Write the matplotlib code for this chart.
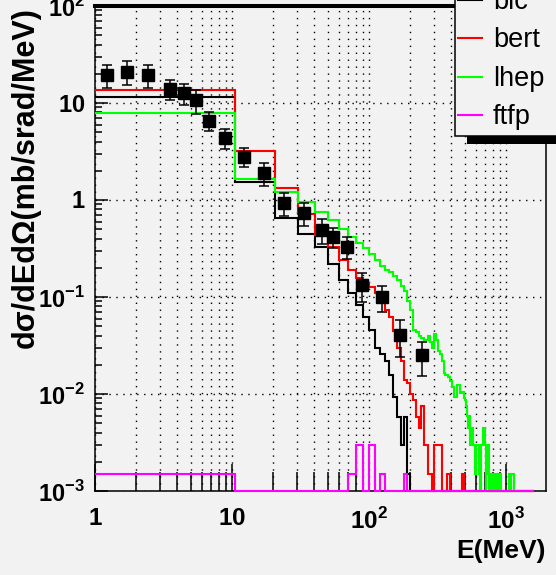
import numpy as np
import matplotlib.pyplot as plt
from matplotlib.lines import Line2D
from matplotlib.patches import Rectangle
from matplotlib.ticker import FixedLocator, FixedFormatter, LogLocator, NullFormatter

plt.rcParams['font.family'] = ['Liberation Sans', 'DejaVu Sans']
plt.rcParams['mathtext.fontset'] = 'custom'
plt.rcParams['mathtext.rm'] = 'Liberation Sans:bold'
plt.rcParams['mathtext.bf'] = 'Liberation Sans:bold'

# measured points
e_data = [1.22, 1.71, 2.44, 3.53, 4.46, 5.46, 6.79, 8.89, 12.2, 17.1,
          24.0, 33.6, 45.4, 54.6, 69.0, 88.9, 124, 168, 244]
xs_data = [19.4, 21.0, 19.4, 13.9, 12.6, 10.7, 6.6, 4.35, 2.8, 1.9,
           0.93, 0.74, 0.49, 0.42, 0.33, 0.133, 0.10, 0.041, 0.025]
xs_err = [5.0, 5.8, 5.0, 3.2, 3.0, 3.0, 1.4, 1.0, 0.6, 0.5,
          0.25, 0.2, 0.14, 0.1, 0.085, 0.044, 0.03, 0.017, 0.0095]

# model histograms, 10 MeV bins starting at 0.5 MeV (empty bins left out at the end)
bin_start = 0.5
bin_width = 10.0
n_bins = 160

bic = [11.6, 1.55, 0.65, 0.45, 0.33, 0.22, 0.15, 0.11, 0.083, 0.062,
       0.046, 0.030, 0.026, 0.022, 0.0157, 0.0093, 0.0058, 0.003, 0.0058, 0.0015]

bert = [13.6, 3.2, 1.32, 0.72, 0.44, 0.33, 0.24, 0.19, 0.157, 0.14,
        0.127, 0.11, 0.093, 0.074, 0.062, 0.045, 0.030, 0.022, 0.014, 0.013,
        0.010, 0.0087, 0.0058, 0.0045, 0.0075, 0.003, 0.003, 0.0015, 0.0015, 0,
        0.003, 0.003, 0.003, 0.003, 0, 0, 0, 0.0015, 0.0015, 0,
        0, 0, 0, 0, 0, 0, 0, 0, 0.0015]

lhep = [7.9, 1.65, 1.22, 0.95, 0.75, 0.62, 0.5, 0.42, 0.36, 0.32,
        0.28, 0.24, 0.21, 0.19, 0.18, 0.165, 0.15, 0.13, 0.115, 0.09,
        0.073, 0.046, 0.044, 0.040, 0.038, 0.036, 0.036, 0.040, 0.034, 0.030,
        0.042, 0.036, 0.028, 0.026, 0.022, 0.0165, 0.0157, 0.0157, 0.0150, 0.0135,
        0.0118, 0.0118, 0.0093, 0.0093, 0.0124, 0.0124, 0.0102, 0.0102, 0.0105, 0.009,
        0.0087, 0.0075, 0.006, 0.0045, 0.006, 0.003, 0.0045, 0.003, 0.003, 0.0015,
        0.003, 0.003, 0.003, 0.003, 0.0015, 0, 0.003, 0.003, 0.0045, 0.0045,
        0.003, 0, 0.0015, 0.003, 0.003, 0, 0.0015, 0.0015, 0, 0.0015,
        0.0015, 0, 0.0015, 0.0015, 0.0015, 0, 0.0015, 0.0015, 0.0015, 0,
        0.0015, 0.0015, 0, 0, 0, 0, 0, 0, 0, 0,
        0, 0, 0, 0, 0, 0.0015, 0.0015, 0.0015, 0, 0.0015,
        0.0015, 0.0015, 0.0015, 0.0015]

ftfp = [0.0015, 0, 0, 0, 0, 0, 0, 0.0015, 0.003, 0,
        0.003, 0, 0.0015, 0, 0, 0, 0, 0, 0.0015]

models = [("bic", bic, "black"), ("bert", bert, "#ff0000"),
          ("lhep", lhep, "#00ff00"), ("ftfp", ftfp, "#ff00ff")]

bg = "#f2f2f2"
xmin, xmax = 1, 1960
ymin, ymax = 1e-3, 100

W, H = 556, 575
fig = plt.figure(figsize=(W / 100, H / 100), dpi=100, facecolor=bg)
ax = fig.add_axes([95 / W, 1 - 491 / H, 451 / W, 485 / H], facecolor=bg)
ax.set_xscale('log')
ax.set_yscale('log')
ax.set_xlim(xmin, xmax)
ax.set_ylim(ymin, ymax)
ax.set_axisbelow(True)

edges = bin_start + bin_width * np.arange(n_bins + 1)
edges = np.maximum(edges, xmin)
for name, vals, col in models:
    v = np.zeros(n_bins)
    v[:len(vals)] = vals
    v = np.where(v > 0, v, ymin)  # empty bins sit on the bottom axis, like ROOT
    ax.stairs(v, edges, baseline=None, color=col, lw=1.5, clip_on=False, zorder=3)

ax.errorbar(e_data, xs_data, yerr=xs_err, fmt='s', color='black', ms=8,
            capsize=3.5, elinewidth=1.1, capthick=1.1, zorder=6)

# axes, ticks, grid
ax.xaxis.set_major_locator(FixedLocator([1, 10, 100, 1000]))
ax.xaxis.set_major_formatter(FixedFormatter([r'$1$', r'$10$', r'$10^{2}$', r'$10^{3}$']))
ax.xaxis.set_minor_locator(LogLocator(base=10, subs=range(2, 10)))
ax.xaxis.set_minor_formatter(NullFormatter())
ax.yaxis.set_major_locator(FixedLocator([1e-3, 1e-2, 1e-1, 1, 10, 100]))
ax.yaxis.set_major_formatter(FixedFormatter([r'$10^{-3}$', r'$10^{-2}$', r'$10^{-1}$',
                                             r'$1$', r'$10$', r'$10^{2}$']))
ax.yaxis.set_minor_locator(LogLocator(base=10, subs=range(2, 10)))
ax.yaxis.set_minor_formatter(NullFormatter())

ax.tick_params(axis='x', which='major', direction='in', length=19.4, width=1.1,
               labelsize=17.5, pad=12, top=False)
ax.tick_params(axis='x', which='minor', direction='in', length=13.7, width=1.1, top=False)
ax.tick_params(axis='y', which='major', direction='in', length=9.4, width=1.1,
               labelsize=17, pad=7, right=False)
ax.tick_params(axis='y', which='minor', direction='in', length=5.0, width=1.1, right=False)

ax.grid(True, axis='x', which='both', color='black', lw=1.0, linestyle=(0, (1, 4)))
ax.grid(True, axis='y', which='major', color='black', lw=1.0, linestyle=(0, (1, 4)))

for s in ['left', 'right', 'bottom']:
    ax.spines[s].set_linewidth(1.1)
ax.spines['top'].set_linewidth(2.9)

ax.set_xlabel('E(MeV)', fontsize=19, fontweight='bold', ha='right', va='center')
ax.xaxis.set_label_coords(1.0, -0.124)
ax.set_ylabel('dσ/dEdΩ(mb/srad/MeV)', fontsize=22, fontweight='bold', ha='right', va='center')
ax.yaxis.set_label_coords(-0.153, 0.998)


# legend box, partly outside the picture as in the original
def fx(px):
    return px / W


def fy(py):
    return 1 - py / H


fig.add_artist(Rectangle((fx(467), fy(144)), fx(640) - fx(467), fy(-32) - fy(144),
                         transform=fig.transFigure, facecolor='black', edgecolor='none',
                         zorder=8, clip_on=False))
fig.add_artist(Rectangle((fx(455), fy(136)), fx(620) - fx(455), fy(-40) - fy(136),
                         transform=fig.transFigure, facecolor=bg, edgecolor='black',
                         lw=1.1, zorder=9, clip_on=False))
leg_y = [0, 38, 77, 115]
for (name, vals, col), py in zip(models, leg_y):
    fig.add_artist(Line2D([fx(458), fx(482)], [fy(py), fy(py)], transform=fig.transFigure,
                          color=col, lw=1.5, zorder=10))
    fig.text(fx(493), fy(py + 2), name, fontsize=19.5, ha='left', va='center', zorder=10)

fig.savefig('out.png', dpi=100, facecolor=bg)
